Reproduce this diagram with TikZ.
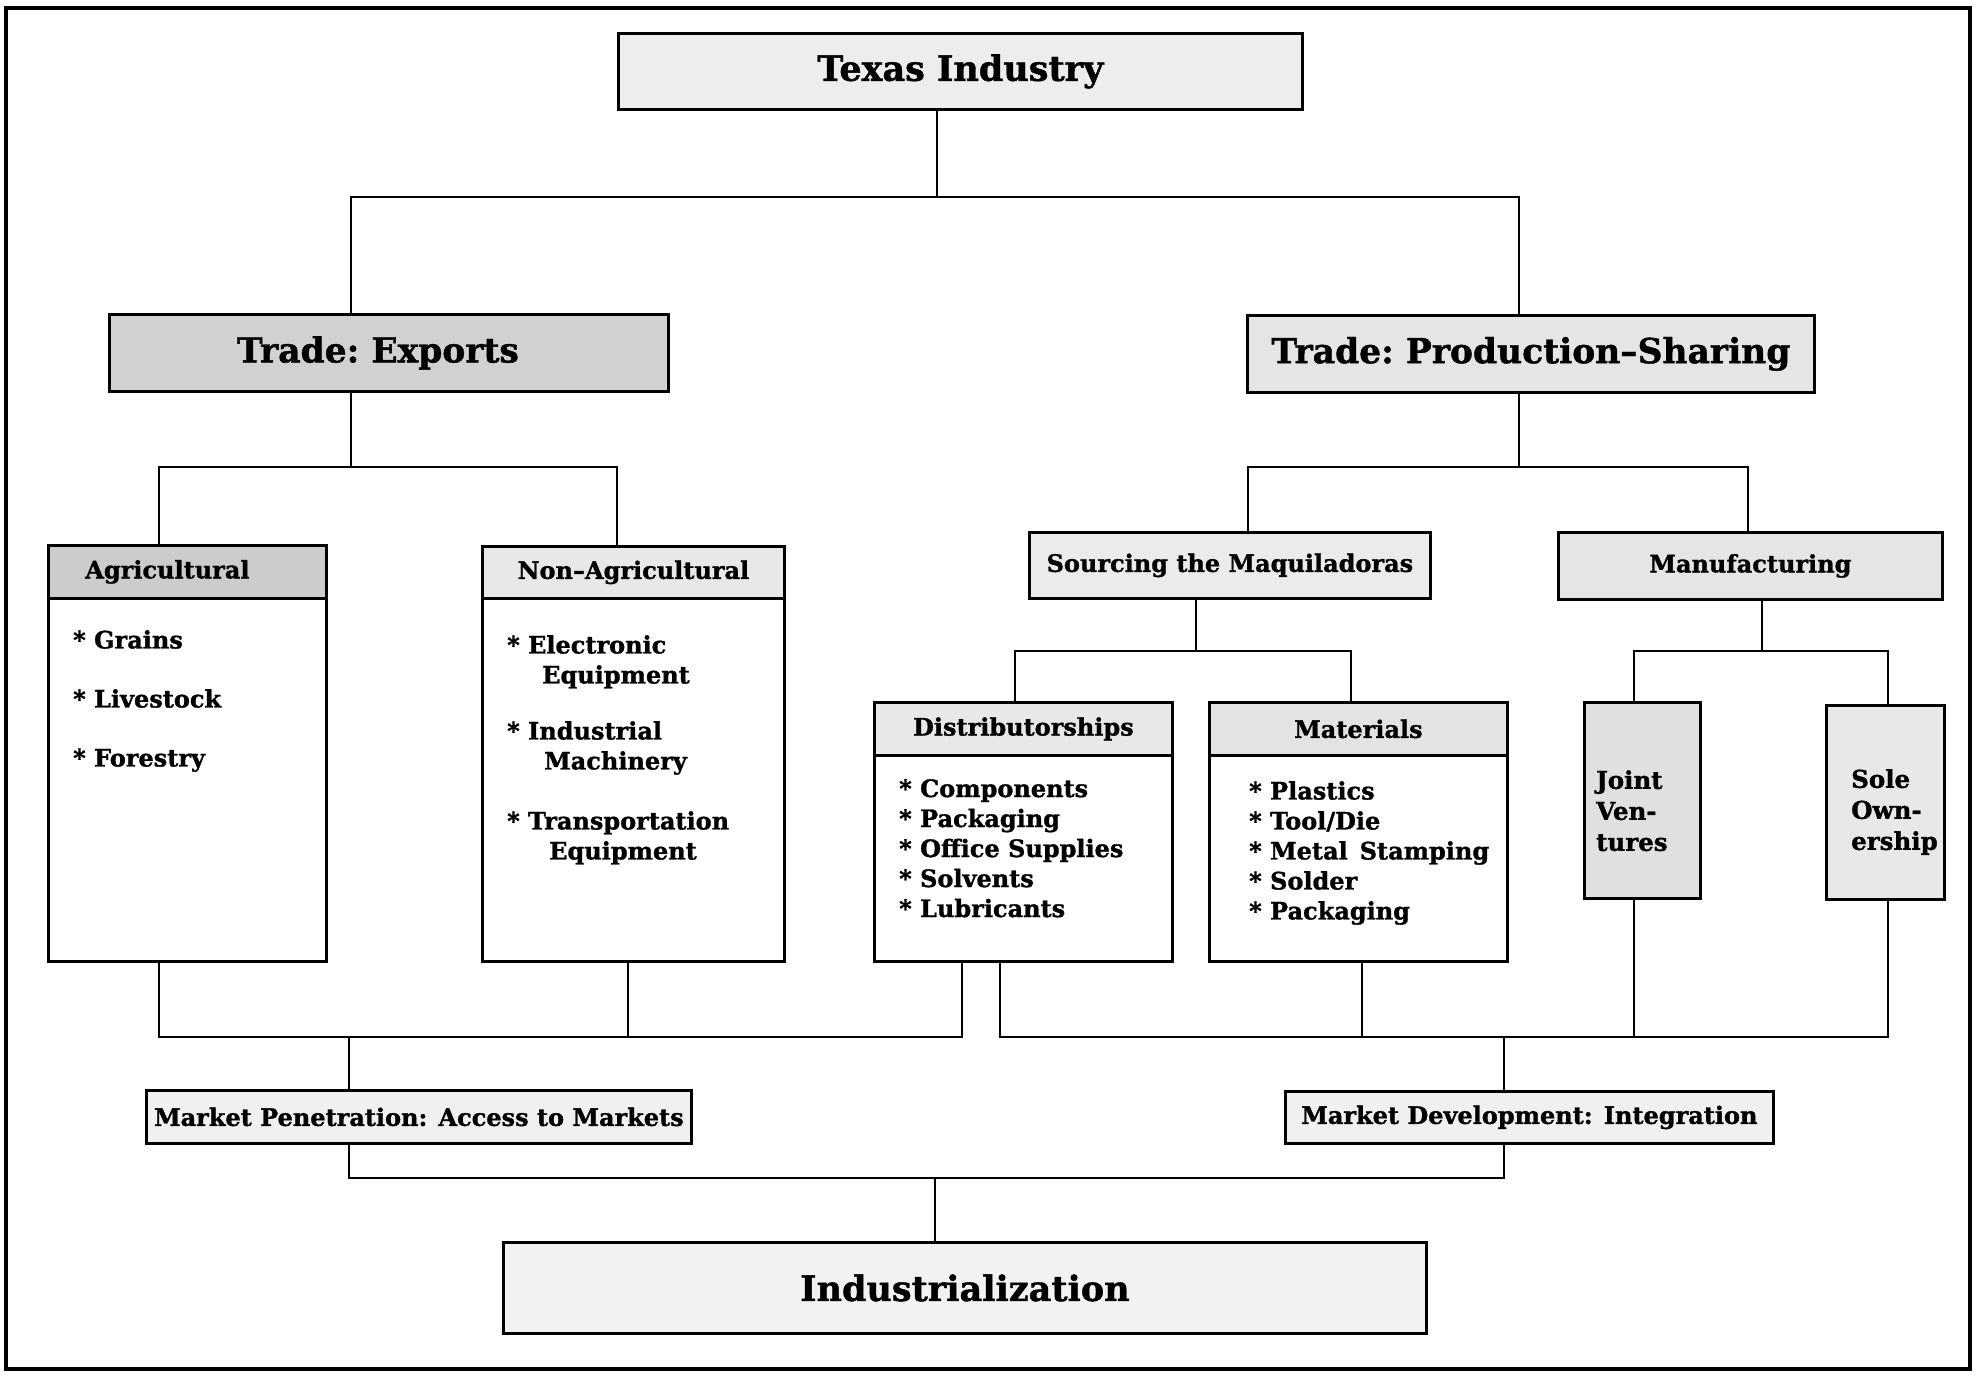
\documentclass[tikz,border=0pt]{standalone}
\usepackage{fontspec}
\setmainfont{DejaVu Serif}[BoldFeatures={FakeBold=1.2}]
\usetikzlibrary{calc}
\definecolor{gTI}{gray}{0.93}
\definecolor{gTE}{gray}{0.82}
\definecolor{gPS}{gray}{0.90}
\definecolor{gAgH}{gray}{0.80}
\definecolor{gNaH}{gray}{0.91}
\definecolor{gSrc}{gray}{0.92}
\definecolor{gMan}{gray}{0.90}
\definecolor{gDiH}{gray}{0.91}
\definecolor{gMaH}{gray}{0.89}
\definecolor{gJV}{gray}{0.88}
\definecolor{gSO}{gray}{0.91}
\definecolor{gMk}{gray}{0.94}
\definecolor{gInd}{gray}{0.95}
\begin{document}
\begin{tikzpicture}[x=1pt,y=-1pt,
  box/.style={draw, line width=2.8pt, inner sep=0pt, anchor=north west},
  bigtxt/.style={font=\fontsize{35}{42}\selectfont\bfseries},
  tradetxt/.style={font=\fontsize{34.5}{42}\selectfont\bfseries},
  midtxt/.style={font=\fontsize{24}{30}\selectfont\bfseries},
  smalltxt/.style={font=\fontsize{24}{30}\selectfont\bfseries},
  listtxt/.style={smalltxt, anchor=north west, inner sep=0pt, align=left},
  link/.style={line width=2pt}]

\useasboundingbox (0,0) rectangle (1978,1374);
\draw[line width=4pt] (6,8) rectangle (1970,1369);

% title boxes
\node[box, fill=gTI, bigtxt, minimum width=684, minimum height=76] (ti) at (617,32) {Texas Industry};
\node[box, fill=gTE, tradetxt, minimum width=559, minimum height=77] (te) at (108,313) {Trade:\kern-4pt{} Exports\kern22pt};
\node[box, fill=gPS, tradetxt, minimum width=567, minimum height=77] (ps) at (1246,314) {Trade:\kern-4pt{} Production–Sharing};

% exports children
\node[box, fill=white, minimum width=278, minimum height=416] (agri) at (47,544) {};
\node[box, fill=gAgH, smalltxt, minimum width=278, minimum height=53] (agrih) at (47,544) {Agricultural\kern40pt};
\node[listtxt] (agril) at (73,630) {* Grains\\[29pt]* Livestock\\[29pt]* Forestry};

\node[box, fill=white, minimum width=302, minimum height=415] (nonag) at (481,545) {};
\node[box, fill=gNaH, smalltxt, minimum width=302, minimum height=52] (nonagh) at (481,545) {Non–Agricultural};
\node[listtxt] (nonagl) at (507,635) {* Electronic\\\hspace*{35pt}Equipment\\[26pt]* Industrial\\\hspace*{37pt}Machinery\\[30pt]* Transportation\\\hspace*{42pt}Equipment};

% production sharing children
\node[box, fill=gSrc, midtxt, minimum width=401, minimum height=66] (src) at (1028,531) {Sourcing the Maquiladoras};
\node[box, fill=gMan, midtxt, minimum width=384, minimum height=67] (manu) at (1557,531) {Manufacturing};

\node[box, fill=white, minimum width=298, minimum height=259] (dist) at (873,701) {};
\node[box, fill=gDiH, smalltxt, minimum width=298, minimum height=53] (disth) at (873,701) {Distributorships};
\node[listtxt] (distl) at (899,779) {* Components\\* Packaging\\* Office Supplies\\* Solvents\\* Lubricants};

\node[box, fill=white, minimum width=298, minimum height=259] (mat) at (1208,701) {};
\node[box, fill=gMaH, smalltxt, minimum width=298, minimum height=53] (math) at (1208,701) {Materials};
\node[listtxt] (matl) at (1249,781) {* Plastics\\* Tool/Die\\* Metal\hspace{0.5em}Stamping\\* Solder\\* Packaging};

\node[box, fill=gJV, minimum width=116, minimum height=196] (jv) at (1583,701) {};
\node[listtxt, font=\fontsize{24.5}{31}\selectfont\bfseries] (jvl) at (1596,770) {Joint\\Ven-\\tures};
\node[box, fill=gSO, minimum width=118, minimum height=194] (so) at (1825,704) {};
\node[listtxt, font=\fontsize{24.5}{31}\selectfont\bfseries] (sol) at (1851,769) {Sole\\Own-\\ership};

% market boxes
\node[box, fill=gMk, smalltxt, minimum width=545, minimum height=53] (mp) at (145,1089) {Market Penetration: Access to Markets};
\node[box, fill=gMk, smalltxt, minimum width=488, minimum height=52] (md) at (1284,1090) {Market Development: Integration};
\node[box, fill=gInd, bigtxt, minimum width=923, minimum height=91] (ind) at (502,1241) {Industrialization};

% connector coordinates
\coordinate (h1M) at (937,197); \coordinate (h1L) at (351,197); \coordinate (h1R) at (1519,197);
\coordinate (h2M) at (351,467); \coordinate (h2L) at (159,467); \coordinate (h2R) at (617,467);
\coordinate (h3M) at (1519,467); \coordinate (h3L) at (1248,467); \coordinate (h3R) at (1748,467);
\coordinate (h4M) at (1196,651); \coordinate (h4L) at (1015,651); \coordinate (h4R) at (1351,651);
\coordinate (h5M) at (1762,651); \coordinate (h5L) at (1634,651); \coordinate (h5R) at (1888,651);
\coordinate (b1a) at (159,1037); \coordinate (b1b) at (628,1037); \coordinate (b1c) at (962,1037); \coordinate (b1m) at (349,1037);
\coordinate (b2a) at (1000,1037); \coordinate (b2b) at (1362,1037); \coordinate (b2c) at (1634,1037); \coordinate (b2d) at (1888,1037); \coordinate (b2m) at (1504,1037);
\coordinate (b3L) at (349,1178); \coordinate (b3R) at (1504,1178); \coordinate (b3M) at (935,1178);

% connectors
\draw[link] (ti.south -| h1M) -- (h1M);
\draw[link] (te.north -| h1L) -- (h1L) -- (h1R) -- (ps.north -| h1R);
\draw[link] (te.south -| h2M) -- (h2M);
\draw[link] (agri.north -| h2L) -- (h2L) -- (h2R) -- (nonag.north -| h2R);
\draw[link] (ps.south -| h3M) -- (h3M);
\draw[link] (src.north -| h3L) -- (h3L) -- (h3R) -- (manu.north -| h3R);
\draw[link] (src.south -| h4M) -- (h4M);
\draw[link] (dist.north -| h4L) -- (h4L) -- (h4R) -- (mat.north -| h4R);
\draw[link] (manu.south -| h5M) -- (h5M);
\draw[link] (jv.north -| h5L) -- (h5L) -- (h5R) -- (so.north -| h5R);
\draw[link] (agri.south -| b1a) -- (b1a) -- (b1c) -- (dist.south -| b1c);
\draw[link] (nonag.south -| b1b) -- (b1b);
\draw[link] (b1m) -- (mp.north -| b1m);
\draw[link] (dist.south -| b2a) -- (b2a) -- (b2d) -- (so.south -| b2d);
\draw[link] (mat.south -| b2b) -- (b2b);
\draw[link] (jv.south -| b2c) -- (b2c);
\draw[link] (b2m) -- (md.north -| b2m);
\draw[link] (mp.south -| b3L) -- (b3L) -- (b3R) -- (md.south -| b3R);
\draw[link] (b3M) -- (ind.north -| b3M);
\end{tikzpicture}
\end{document}
